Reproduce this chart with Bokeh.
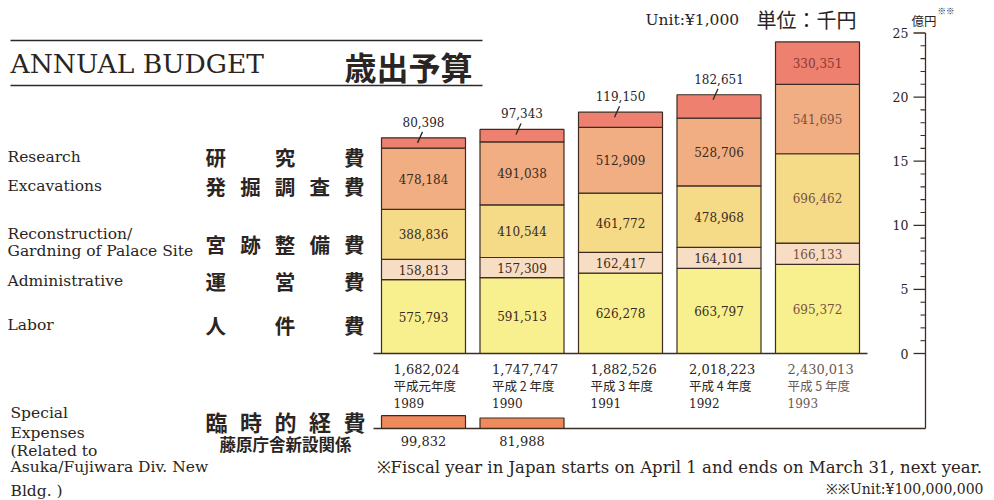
import numpy as np
from bokeh.plotting import figure
from bokeh.models import Range1d, Label
from bokeh.embed import file_html
from bokeh.resources import INLINE
from bokeh.core.properties import value

# ---------------- data (unit: ¥1,000) ----------------
years = ["1989", "1990", "1991", "1992", "1993"]
fiscal_labels = ["平成元年度", "平成 2 年度", "平成 3 年度", "平成 4 年度", "平成 5 年度"]
labor = [575793, 591513, 626278, 663797, 695372]
administrative = [158813, 157309, 162417, 164101, 166133]
reconstruction = [388836, 410544, 461772, 478968, 696462]
excavations = [478184, 491038, 512909, 528706, 541695]
research = [80398, 97343, 119150, 182651, 330351]
totals = [1682024, 1747747, 1882526, 2018223, 2430013]
special = [99832, 81988]          # 1989, 1990 only
axis_major = [0, 5, 10, 15, 20, 25]  # ¥100,000,000

# ---------------- layout constants ----------------
W, H = 994, 500
PPU_Y = 12.82      # px per ¥100M
Y0 = 353           # px row of zero
PPU_X = 98.5       # px per bar slot
X0 = 423           # px column of the first bar centre
BW = 84 / PPU_X
SERIF = "DejaVu Serif"
CJK = "Noto Sans CJK JP"
TXT = "#2a2522"
EDGE = "#3d2c22"

def dx(px):
    return (px - X0) / PPU_X

def dy(py):
    return (Y0 - py) / PPU_Y

p = figure(width=W, height=H, x_range=Range1d(dx(0), dx(W)), y_range=Range1d(dy(H), dy(0)),
           min_border=0, toolbar_location=None, output_backend="svg",
           x_axis_type=None, y_axis_type=None, background_fill_color="white")
p.outline_line_color = None
p.xgrid.visible = False
p.ygrid.visible = False

def lab(text, x, y, size, font=SERIF, align="left", bold=False, color=TXT):
    p.add_layout(Label(x=x, y=H - y, x_units="screen", y_units="screen", text=text,
                       text_font=font, text_font_size=f"{size}px", text_align=align,
                       text_baseline="middle", text_font_style="bold" if bold else "normal",
                       text_color=color))

def justify(chars, x_left, x_right, y, size, bold=True):
    n = len(chars)
    step = (x_right - x_left - size) / (n - 1)
    for i, ch in enumerate(chars):
        lab(ch, x_left + i * step, y, size, font=CJK, bold=bold)

# ---------------- stacked bars ----------------
xs = np.arange(len(years), dtype=float)
layers = [labor, administrative, reconstruction, excavations, research]
fills = ["#F8EF8E", "#F7DDC4", "#F5DA88", "#F1AE83", "#EE8070"]
bar_txt = ["#3a2a20"] * 4 + ["#7a5040"]

bottom = np.zeros(len(xs))
for li, (vals, fc) in enumerate(zip(layers, fills)):
    v = np.array(vals) / 1e5
    top = bottom + v
    p.vbar(x=xs, bottom=bottom, top=top, width=BW, fill_color=fc,
           line_color=EDGE, line_width=1.2)
    mids = bottom + v / 2
    txt = [f"{val:,}" for val in vals]
    if li < 4:
        p.text(x=xs, y=mids, text=txt, text_font=value(SERIF), text_font_size="12px",
               text_align="center", text_baseline="middle", text_color=bar_txt)
    else:
        inside = v * PPU_Y > 30
        ii = np.where(inside)[0]
        oo = np.where(~inside)[0]
        p.text(x=xs[ii], y=mids[ii], text=[txt[i] for i in ii], text_font=value(SERIF),
               text_font_size="12px", text_align="center", text_baseline="middle",
               text_color="#8a3a30")
        p.text(x=xs[oo], y=top[oo] + 16 / PPU_Y, text=[txt[i] for i in oo],
               text_font=value(SERIF), text_font_size="12px", text_align="center",
               text_baseline="middle", text_color=TXT)
        p.segment(x0=xs[oo] - 6 / PPU_X, y0=top[oo] - 5 / PPU_Y,
                  x1=xs[oo] - 1 / PPU_X, y1=top[oo] + 6 / PPU_Y,
                  line_color=TXT, line_width=1.3)
    bottom = top

# totals and fiscal-year labels under bars
tx = xs - BW / 2 + 12 / PPU_X
tot_col = [TXT] * 4 + ["#6a5a55"]
p.text(x=tx, y=np.full(len(xs), dy(368)), text=[f"{t:,}" for t in totals],
       text_font=value(SERIF), text_font_size="13px", text_baseline="middle",
       text_color=tot_col)
p.text(x=tx, y=np.full(len(xs), dy(385)), text=fiscal_labels,
       text_font=value(CJK), text_font_size="12.5px", text_baseline="middle",
       text_color=tot_col)
p.text(x=tx, y=np.full(len(xs), dy(402)), text=years,
       text_font=value(SERIF), text_font_size="12px", text_baseline="middle",
       text_color=tot_col)

# baselines
p.segment(x0=[xs[0] - BW / 2 - 8 / PPU_X], y0=[0], x1=[xs[-1] + BW / 2 + 8 / PPU_X], y1=[0],
          line_color=EDGE, line_width=1.3)

# ---------------- special expenses ----------------
SB = dy(428)
sx = xs[:len(special)]
sv = np.array(special) / 1e5
p.vbar(x=sx, bottom=SB, top=SB + sv, width=BW, fill_color="#EE8A5C",
       line_color=EDGE, line_width=1.2)
p.text(x=sx, y=np.full(len(sx), SB - 12 / PPU_Y), text=[f"{s:,}" for s in special],
       text_font=value(SERIF), text_font_size="13px", text_align="center",
       text_baseline="middle", text_color=TXT)

AX = dx(925)
p.segment(x0=[xs[0] - BW / 2 - 8 / PPU_X], y0=[SB], x1=[AX], y1=[SB],
          line_color=EDGE, line_width=1.3)

# ---------------- right-hand axis (¥100M) ----------------
p.segment(x0=[AX], y0=[axis_major[-1]], x1=[AX], y1=[SB], line_color=EDGE, line_width=1.3)
maj = np.array(axis_major, dtype=float)
p.segment(x0=np.full(len(maj), AX - 12 / PPU_X), y0=maj, x1=np.full(len(maj), AX), y1=maj,
          line_color=EDGE, line_width=1.3)
minor = np.array([m for m in range(axis_major[0], axis_major[-1]) if m % 5 != 0], dtype=float)
p.segment(x0=np.full(len(minor), AX - 5 / PPU_X), y0=minor, x1=np.full(len(minor), AX), y1=minor,
          line_color=EDGE, line_width=1.1)
p.text(x=np.full(len(maj), AX - 17 / PPU_X), y=maj, text=[str(int(m)) for m in maj],
       text_font=value(SERIF), text_font_size="12.5px", text_align="right",
       text_baseline="middle", text_color=TXT)

# ---------------- header ----------------
p.segment(x0=[dx(10), dx(10)], y0=[dy(40), dy(85)], x1=[dx(482), dx(482)], y1=[dy(40), dy(85)],
          line_color="#2a2a2a", line_width=1.5)
lab("ANNUAL BUDGET", 10, 63, 26.5)
lab("歳出予算", 344, 65, 32, font=CJK, bold=True)
lab("Unit:¥1,000", 645, 19, 15.5)
lab("単位：千円", 756, 19, 20, font=CJK)
lab("億円", 911, 20, 12.5, font=CJK)
lab("※※", 937, 9, 8.5, font=CJK, color="#222222")

# ---------------- left category labels ----------------
lab("Research", 7, 156, 15.5)
justify("研究費", 205, 364, 156, 20.5)
lab("Excavations", 7, 185, 15.5)
justify("発掘調査費", 205, 364, 185, 20.5)
lab("Reconstruction/", 7, 233, 15.5)
lab("Gardning of Palace Site", 7, 250, 15.5)
justify("宮跡整備費", 205, 364, 243, 20.5)
lab("Administrative", 7, 280, 15.5)
justify("運営費", 205, 364, 280, 20.5)
lab("Labor", 7, 324, 15.5)
justify("人件費", 205, 364, 324, 20.5)

lab("Special", 10, 412, 15.5)
lab("Expenses", 10, 432, 15.5)
lab("(Related to", 10, 450, 15.5)
lab("Asuka/Fujiwara Div. New", 10, 466, 15.5)
lab("Bldg. )", 10, 490, 15.5)
justify("臨時的経費", 205, 365, 420, 22)
lab("藤原庁舎新設関係", 219, 443, 16.5, font=CJK, bold=True)

# ---------------- footnotes ----------------
lab("※Fiscal year in Japan starts on April 1 and ends on March 31, next year.", 376, 467, 16.5)
lab("※※Unit:¥100,000,000", 983, 488, 14, align="right")

open("out.html", "w").write(file_html(p, INLINE))
